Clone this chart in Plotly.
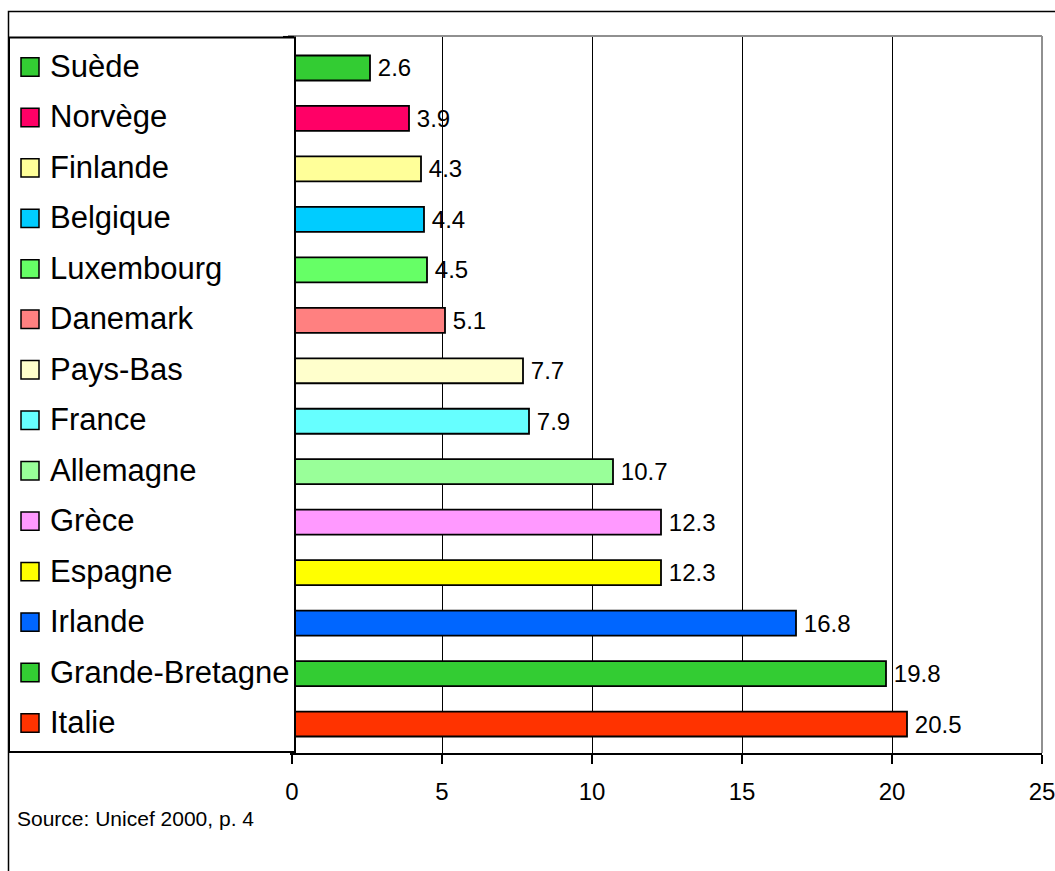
import plotly.graph_objects as go

countries = ["Suède", "Norvège", "Finlande", "Belgique", "Luxembourg", "Danemark",
             "Pays-Bas", "France", "Allemagne", "Grèce", "Espagne", "Irlande",
             "Grande-Bretagne", "Italie"]
values = [2.6, 3.9, 4.3, 4.4, 4.5, 5.1, 7.7, 7.9, 10.7, 12.3, 12.3, 16.8, 19.8, 20.5]
colors = ["#33CC33", "#FF0066", "#FFFF99", "#00CCFF", "#66FF66", "#FF8080",
          "#FFFFCC", "#66FFFF", "#99FF99", "#FF99FF", "#FFFF00", "#0066FF",
          "#33CC33", "#FF3300"]
x_ticks = [0, 5, 10, 15, 20, 25]
source_text = "Source: Unicef 2000, p. 4"

W, H = 1055, 871
ML, MR, MT, MB = 292, 13, 36, 118
PW, PH = W - ML - MR, H - MT - MB
FONT = "Arial, Liberation Sans, sans-serif"


def px(xpix):
    return (xpix - ML) / PW


def py(ypix):
    return (H - MB - ypix) / PH


fig = go.Figure()
fig.add_trace(go.Bar(
    x=values, y=countries, orientation="h",
    marker=dict(color=colors, line=dict(color="black", width=1.8)),
    width=0.495,
    text=[f"\u2009{v}" for v in values],
    textposition="outside",
    textfont=dict(family=FONT, size=24, color="black"),
    constraintext="none",
    cliponaxis=False,
    showlegend=False,
    hoverinfo="x+y",
))

shapes = []
# outer frame
shapes.append(dict(type="rect", xref="paper", yref="paper",
                   x0=px(8.5), x1=px(1100), y0=py(11.5), y1=py(950),
                   line=dict(color="black", width=1.5), layer="below"))
# gray plot border (top & right)
shapes.append(dict(type="line", xref="paper", yref="paper",
                   x0=px(288), x1=1, y0=1, y1=1,
                   line=dict(color="#909090", width=2), layer="above"))
shapes.append(dict(type="line", xref="paper", yref="paper",
                   x0=1, x1=1, y0=0, y1=1,
                   line=dict(color="#909090", width=2), layer="above"))
# small y tick at top
shapes.append(dict(type="line", xref="paper", yref="paper",
                   x0=px(283), x1=px(294), y0=py(36.7), y1=py(36.7),
                   line=dict(color="black", width=1.5), layer="above"))
# legend box
shapes.append(dict(type="rect", xref="paper", yref="paper",
                   x0=px(9), x1=px(295), y0=py(752), y1=py(37.5),
                   fillcolor="white", line=dict(color="black", width=2), layer="above"))

annotations = []
half = 9.2 / 50.5
for i, (c, col) in enumerate(zip(countries, colors)):
    shapes.append(dict(type="rect", xref="paper", yref="y",
                       x0=px(21), x1=px(39), y0=i - half - 0.02, y1=i + half - 0.02,
                       fillcolor=col, line=dict(color="black", width=1.5), layer="above"))
    annotations.append(dict(xref="paper", yref="y", x=px(48), y=i - 0.03,
                            text=c, showarrow=False, xanchor="left", yanchor="middle",
                            font=dict(family=FONT, size=31, color="black")))

annotations.append(dict(xref="paper", yref="paper", x=px(15), y=py(818),
                        text=source_text, showarrow=False, xanchor="left", yanchor="middle",
                        font=dict(family=FONT, size=21, color="black")))

fig.update_layout(
    width=W, height=H,
    margin=dict(l=ML, r=MR, t=MT, b=MB, pad=0),
    paper_bgcolor="white", plot_bgcolor="white",
    font=dict(family=FONT, color="black"),
    shapes=shapes, annotations=annotations,
    bargap=0.5,
    xaxis=dict(range=[0, 25], tickvals=x_ticks, ticktext=[str(t) for t in x_ticks],
               showgrid=True, gridcolor="black", gridwidth=1,
               showline=True, linecolor="black", linewidth=2,
               ticks="outside", ticklen=9, tickwidth=1.5, tickcolor="black",
               tickfont=dict(family=FONT, size=24, color="black"),
               ticklabelstandoff=7, ticklabeloverflow="allow",
               zeroline=False, fixedrange=True, automargin=False),
    yaxis=dict(type="category", categoryorder="array", categoryarray=countries,
               range=[13.574, -0.634], showticklabels=False, showgrid=False,
               showline=True, linecolor="black", linewidth=2, zeroline=False,
               ticks="", fixedrange=True),
)

fig.write_html("out.html")
